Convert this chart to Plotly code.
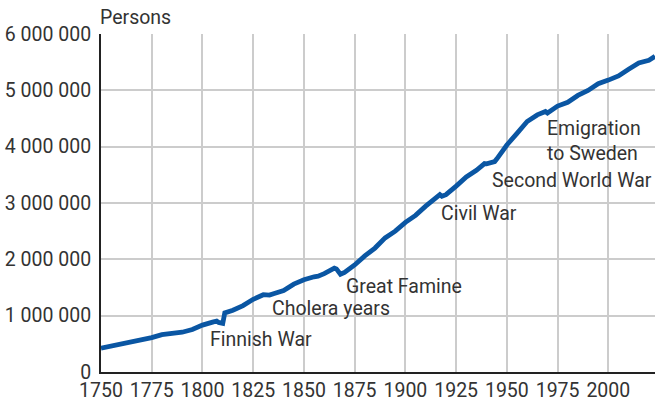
import plotly.graph_objects as go

years = [1750, 1755, 1760, 1765, 1770, 1775, 1780, 1785, 1790, 1795,
         1800, 1805, 1807, 1808, 1809, 1810, 1811, 1815, 1820, 1825,
         1830, 1833, 1835, 1840, 1845, 1850, 1855, 1857, 1860, 1865,
         1866, 1868, 1870, 1875, 1880, 1885, 1890, 1895, 1900, 1905,
         1910, 1915, 1917, 1918, 1920, 1925, 1930, 1935, 1939, 1940,
         1944, 1945, 1950, 1955, 1960, 1965, 1969, 1970, 1975, 1980,
         1985, 1990, 1995, 2000, 2005, 2010, 2015, 2020, 2023]
population = [421537, 455000, 491067, 525000, 561133, 610000, 663887, 680000, 705623, 755000,
              832659, 885000, 905000, 880000, 860000, 863000, 1050000, 1095955, 1177546, 1290000,
              1372077, 1365000, 1390000, 1445626, 1560000, 1636915, 1690000, 1700000, 1746725, 1843245,
              1830000, 1736000, 1768769, 1900000, 2060782, 2200000, 2380140, 2500000, 2655900, 2780000,
              2943400, 3100000, 3150000, 3120000, 3147600, 3300000, 3462700, 3580000, 3700000, 3696000,
              3736000, 3780000, 4029800, 4235000, 4446200, 4564000, 4624000, 4598300, 4720000, 4787800,
              4910000, 4998500, 5116800, 5181100, 5255600, 5375300, 5487300, 5533800, 5603800]

events = ["Finnish War", "Cholera years", "Great Famine", "Civil War",
          "Second World War", "Emigration<br>to Sweden"]
event_x = [1802.5, 1833.5, 1869.5, 1916.5, 1941.5, 1969]
event_y = [570000, 1136000, 1509000, 2805000, 3408000, 4092000]

TEXT = "#333333"
FONT = "Roboto"
SIZE = 19.5

fig = go.Figure()
fig.add_trace(go.Scatter(x=years, y=population, mode="lines",
                         line=dict(color="#0a56a3", width=4.8), hoverinfo="skip"))

for name, ex, ey in zip(events, event_x, event_y):
    fig.add_annotation(x=ex, y=ey, text=name, showarrow=False, xanchor="left",
                       align="left", font=dict(family=FONT, size=SIZE, color=TEXT))

fig.add_annotation(xref="paper", yref="paper", x=0, y=1, xshift=-3, yshift=3, text="Persons",
                   showarrow=False, xanchor="left", yanchor="bottom",
                   font=dict(family=FONT, size=SIZE, color=TEXT))

fig.update_layout(
    width=655, height=400,
    margin=dict(l=101, r=0, t=34, b=28),
    plot_bgcolor="white", paper_bgcolor="white",
    separators=". ",
    showlegend=False,
    font=dict(family=FONT, size=SIZE, color=TEXT),
    xaxis=dict(range=[1750, 2023], tickvals=list(range(1750, 2001, 25)),
               showgrid=True, gridcolor="#cccccc", gridwidth=1.5, automargin=False,
               showline=True, linecolor="#222222", linewidth=2,
               ticks="", tickfont=dict(size=SIZE, color=TEXT), zeroline=False),
    yaxis=dict(range=[0, 6000000], tickvals=list(range(0, 6000001, 1000000)),
               tickformat=",d", showgrid=True, gridcolor="#cccccc", gridwidth=1.5,
               showline=True, linecolor="#222222", linewidth=2, ticklabelstandoff=4,
               automargin=False,
               ticks="", tickfont=dict(size=SIZE, color=TEXT), zeroline=False),
)

fig.write_html("out.html", config={"displayModeBar": False},
               post_script="document.body.style.margin='0';")
